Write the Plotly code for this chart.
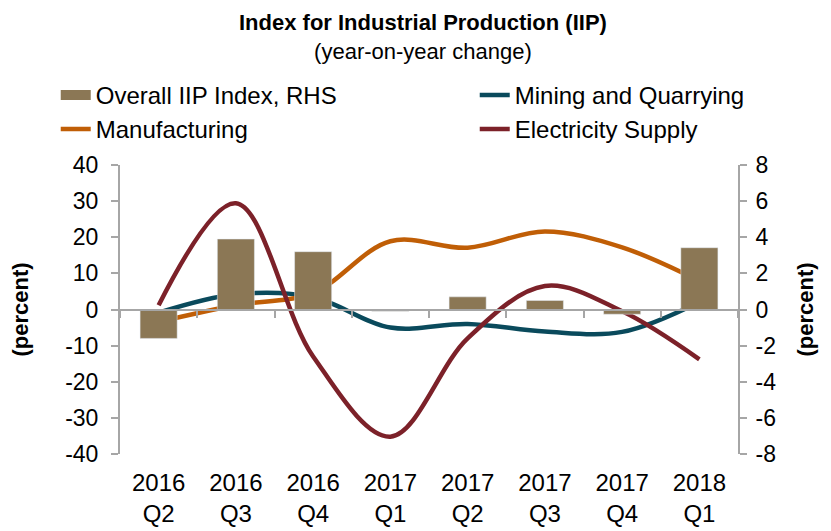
import plotly.graph_objects as go

quarters = ["2016<br>Q2", "2016<br>Q3", "2016<br>Q4", "2017<br>Q1",
            "2017<br>Q2", "2017<br>Q3", "2017<br>Q4", "2018<br>Q1"]
overall_iip = [-1.6, 3.9, 3.2, -0.1, 0.7, 0.5, -0.26, 3.42]          # RHS
mining = [-0.9, 4.2, 3.4, -5.0, -4.0, -6.1, -6.2, 2.1]
manufacturing = [-3.4, 1.2, 4.6, 18.9, 17.1, 21.6, 17.2, 7.9]
electricity = [1.2, 29.4, -13.0, -35.2, -8.0, 6.5, -0.5, -13.8]

left_ticks = [-40, -30, -20, -10, 0, 10, 20, 30, 40]
left_text = ["-40", "-30", "-20", "-10", "0", "10", "20", "30", "40"]
right_ticks = [-8, -6, -4, -2, 0, 2, 4, 6, 8]
right_text = ["-8", "-6", "-4", "-2", "0", "2", "4", "6", "8"]

font = "Liberation Sans, Arial, sans-serif"
bar_color = "#8B7755"
gray = "#A6A6A6"

fig = go.Figure()
fig.add_trace(go.Bar(x=quarters, y=overall_iip, name="Overall IIP Index, RHS",
                     marker_color=bar_color, width=0.48, yaxis="y2", showlegend=False))
# legend entry for the bars (wide swatch like the original)
fig.add_trace(go.Scatter(x=quarters, y=[None] * len(quarters), name="Overall IIP Index, RHS",
                         mode="lines", line=dict(color=bar_color, width=12), legend="legend"))
fig.add_trace(go.Scatter(x=quarters, y=mining, name="Mining and Quarrying", mode="lines",
                         line=dict(color="#0A4A5C", width=4.5, shape="spline", smoothing=1),
                         legend="legend2"))
fig.add_trace(go.Scatter(x=quarters, y=manufacturing, name="Manufacturing", mode="lines",
                         line=dict(color="#C05E06", width=4.5, shape="spline", smoothing=1),
                         legend="legend"))
fig.add_trace(go.Scatter(x=quarters, y=electricity, name="Electricity Supply", mode="lines",
                         line=dict(color="#7C2129", width=4.5, shape="spline", smoothing=1),
                         legend="legend2"))
# empty trace on an overlaid x axis that sits at y = 0
fig.add_trace(go.Scatter(x=quarters, y=[None] * len(quarters), xaxis="x2",
                         showlegend=False, hoverinfo="skip"))

legend_style = dict(orientation="v", yanchor="top", xanchor="left", y=1.319,
                    font=dict(size=24), itemwidth=30, tracegroupgap=0,
                    bgcolor="rgba(0,0,0,0)")

fig.update_layout(
    width=831, height=531,
    margin=dict(l=99, r=101, t=157, b=84),
    plot_bgcolor="white", paper_bgcolor="white",
    font=dict(family=font, size=22, color="black"),
    showlegend=True,
    legend=dict(x=-0.104, **legend_style),
    legend2=dict(x=0.574, **legend_style),
    annotations=[
        dict(text="<b>Index for Industrial Production (IIP)</b><br>(year-on-year change)",
             xref="paper", yref="paper", x=0.49, y=1.54, showarrow=False,
             font=dict(size=22), yanchor="top", borderpad=0),
    ],
    bargap=0.52,
    xaxis=dict(showline=False, ticks="", showgrid=False, tickfont=dict(size=24),
               ticklabelstandoff=12),
    xaxis2=dict(overlaying="x", anchor="free", position=0.5, showline=True,
                linecolor=gray, linewidth=2, ticks="outside", tickson="boundaries",
                tickcolor=gray, ticklen=7, tickwidth=2, showticklabels=False,
                showgrid=False, matches="x"),
    yaxis=dict(range=[-40, 40], tickvals=left_ticks, ticktext=left_text,
               showgrid=False, zeroline=False, showline=True,
               linecolor=gray, linewidth=2, ticks="outside", tickcolor=gray,
               ticklen=7, tickwidth=2, tickfont=dict(size=23), ticklabelstandoff=8,
               title=dict(text="<b>(percent)</b>", standoff=30, font=dict(size=22))),
    yaxis2=dict(range=[-8, 8], tickvals=right_ticks, ticktext=right_text,
                overlaying="y", side="right", showgrid=False,
                zeroline=False, showline=True, linecolor=gray, linewidth=2,
                ticks="outside", tickcolor=gray, ticklen=7, tickwidth=2,
                tickfont=dict(size=23), ticklabelstandoff=4,
                title=dict(text="<b>(percent)</b>", standoff=22, font=dict(size=22))),
)

fig.write_html("out.html")
